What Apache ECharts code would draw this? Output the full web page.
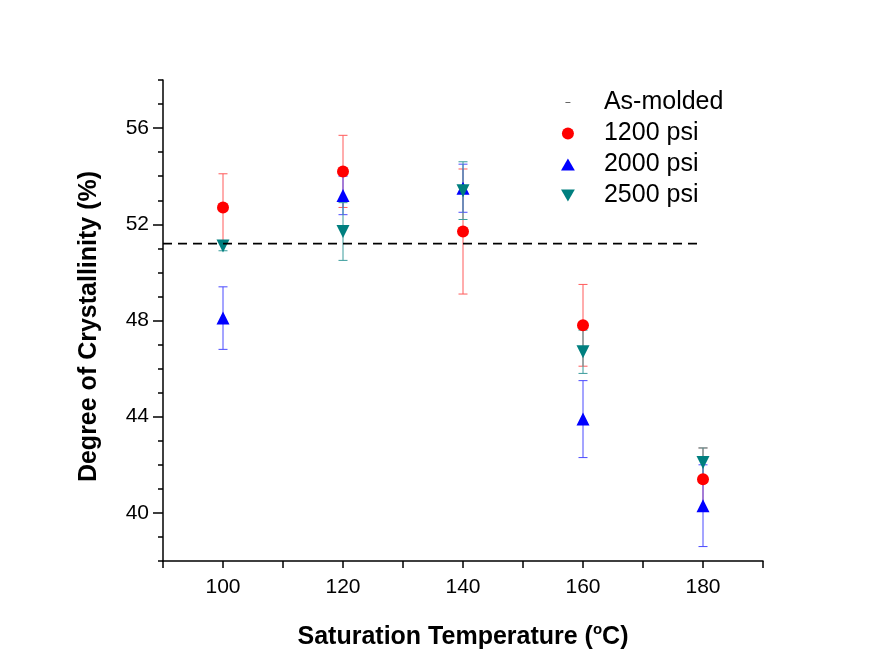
<!DOCTYPE html>
<html>
<head>
<meta charset="utf-8">
<script src="https://cdn.jsdelivr.net/npm/echarts@6/dist/echarts.min.js"></script>
<style>
html,body{margin:0;padding:0;background:#fff;}
#chart{width:870px;height:669px;}
</style>
</head>
<body>
<div id="chart"></div>
<script>
// ---- data ----
const temps = [100, 120, 140, 160, 180];
const p1200 = [52.7, 54.2, 51.7, 47.8, 41.4];
const e1200 = [1.4, 1.5, 2.6, 1.7, 1.3];
const p2000 = [48.1, 53.2, 53.5, 43.9, 40.3];
const e2000 = [1.3, 0.8, 1.0, 1.6, 1.7];
const p2500 = [51.1, 51.7, 53.4, 46.7, 42.1];
const e2500 = [0.2, 1.2, 1.2, 0.9, 0.6];
const asMoldedX = [90, 180];
const asMoldedY = 51.2;
const yTickLabels = [40, 44, 48, 52, 56];
const xTickLabels = [100, 120, 140, 160, 180];
const seriesNames = ['As-molded', '1200 psi', '2000 psi', '2500 psi'];

const FONT = '"Liberation Sans", Arial, sans-serif';
const upTri = 'path://M6,0 L12,10.4 L0,10.4 Z';
const invTri = 'path://M0,0 L12,0 L6,10.4 Z';
const dashIcon = 'path://M0,0 M12,12 M3.5,5.5 L8.5,5.5 L8.5,6.5 L3.5,6.5 Z';

function pts(vals) { return temps.map((t, i) => [t, vals[i]]); }
function errs(vals, e) { return temps.map((t, i) => [t, vals[i] - e[i], vals[i] + e[i]]); }
function errRenderer(color) {
  return function (params, api) {
    const x = api.value(0), lo = api.value(1), hi = api.value(2);
    const a = api.coord([x, lo]), b = api.coord([x, hi]);
    const hw = 4.5;
    const st = { stroke: color, lineWidth: 1 };
    return {
      type: 'group', children: [
        { type: 'line', shape: { x1: a[0], y1: a[1], x2: b[0], y2: b[1] }, style: st },
        { type: 'line', shape: { x1: a[0] - hw, y1: a[1], x2: a[0] + hw, y2: a[1] }, style: st },
        { type: 'line', shape: { x1: b[0] - hw, y1: b[1], x2: b[0] + hw, y2: b[1] }, style: st }
      ]
    };
  };
}
function errSeries(name, vals, e, color) {
  return {
    name: name, type: 'custom', renderItem: errRenderer(color),
    data: errs(vals, e), encode: { x: 0, y: [1, 2] }, silent: true
  };
}

const chart = echarts.init(document.getElementById('chart'), null, { renderer: 'canvas' });
chart.setOption({
  animation: false,
  backgroundColor: '#ffffff',
  textStyle: { fontFamily: FONT },
  grid: { left: 163, right: 107, top: 80, bottom: 108, containLabel: false },
  legend: {
    orient: 'vertical', left: 556, top: 85, padding: 5,
    itemWidth: 62, itemHeight: 12, itemGap: 6,
    textStyle: { fontFamily: FONT, fontSize: 25, lineHeight: 25, color: '#000' },
    data: [
      { name: seriesNames[0], icon: dashIcon, itemStyle: { color: '#666' } },
      { name: seriesNames[1], icon: 'circle' },
      { name: seriesNames[2], icon: upTri },
      { name: seriesNames[3], icon: invTri }
    ]
  },
  xAxis: {
    type: 'value', min: 90, max: 190, interval: 10,
    name: '{a|Saturation Temperature (}{s|o}{a|C)}',
    nameLocation: 'middle', nameGap: 61,
    nameTextStyle: {
      rich: {
        a: { fontFamily: FONT, fontSize: 25, fontWeight: 'bold', color: '#000' },
        s: { fontFamily: FONT, fontSize: 15, fontWeight: 'bold', color: '#000', padding: [0, 0, 15, 0] }
      }
    },
    axisLine: { onZero: false, lineStyle: { color: '#000', width: 1.5 } },
    axisTick: { length: 7, lineStyle: { color: '#000', width: 1.5 } },
    axisLabel: { customValues: xTickLabels, fontFamily: FONT, fontSize: 21, color: '#000', margin: 16 },
    splitLine: { show: false }
  },
  yAxis: [{
    type: 'value', min: 38, max: 58,
    name: 'Degree of Crystallinity (%)',
    nameLocation: 'middle', nameGap: 61, nameRotate: 90,
    nameTextStyle: { fontFamily: FONT, fontSize: 25, fontWeight: 'bold', color: '#000', padding: [0, 12, 0, 0] },
    axisLine: { onZero: false, lineStyle: { color: '#000', width: 1.5 } },
    axisTick: { customValues: yTickLabels, length: 10, lineStyle: { color: '#000', width: 1.5 } },
    axisLabel: { customValues: yTickLabels, fontFamily: FONT, fontSize: 21, color: '#000', margin: 14 },
    splitLine: { show: false }
  }, {
    type: 'value', min: 38, max: 58, interval: 1, position: 'left',
    axisLine: { show: false },
    axisTick: { show: true, length: 5, lineStyle: { color: '#000', width: 1.5 } },
    axisLabel: { show: false },
    splitLine: { show: false }
  }],
  series: [
    {
      name: seriesNames[0], type: 'line', symbol: 'none',
      data: asMoldedX.map(x => [x, asMoldedY]),
      lineStyle: { color: '#000', width: 1.8, type: [9, 6] },
      itemStyle: { color: '#666' }
    },
    errSeries('err1200', p1200, e1200, '#ff5a5a'),
    {
      name: seriesNames[1], type: 'scatter', symbol: 'circle', symbolSize: 12,
      data: pts(p1200), itemStyle: { color: '#ff0000', opacity: 1 }
    },
    errSeries('err2000', p2000, e2000, '#4a4aff'),
    {
      name: seriesNames[2], type: 'scatter', symbol: upTri, symbolSize: 13,
      data: pts(p2000), itemStyle: { color: '#0000ff', opacity: 1 }
    },
    errSeries('err2500', p2500, e2500, '#3a9c9c'),
    {
      name: seriesNames[3], type: 'scatter', symbol: invTri, symbolSize: 13,
      data: pts(p2500), itemStyle: { color: '#007f7f', opacity: 1 }
    }
  ]
});
</script>
</body>
</html>
